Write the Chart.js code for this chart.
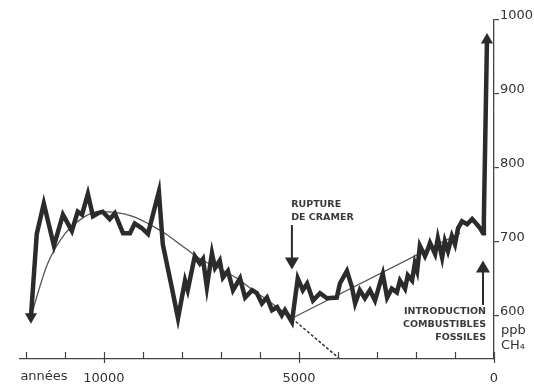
<!DOCTYPE html>
<html>
<head>
<meta charset="utf-8">
<script src="https://cdn.jsdelivr.net/npm/chart.js@4.4.1/dist/chart.umd.min.js"></script>
<style>
  body { margin: 0; background: #fff; }
  #wrap { width: 534px; height: 389px; }
</style>
</head>
<body>
<div id="wrap"><canvas id="myChart"></canvas></div>
<script>
// CH4 concentration (ppb), years before present
let years = [11870, 11720, 11540, 11280, 11050, 10820, 10670, 10560, 10410, 10280, 10150, 10030,
  9850, 9720, 9510, 9330, 9210, 9030, 8870, 8590, 8490, 8260, 8100, 7920, 7850, 7670, 7540, 7460,
  7360, 7230, 7150, 7030, 6950, 6820, 6690, 6510, 6380, 6200, 6080, 5950, 5820, 5690, 5560, 5440,
  5360, 5180, 5030, 4900, 4790, 4640, 4460, 4280, 4030, 3950, 3770, 3640, 3560, 3440, 3310, 3180,
  3050, 2920, 2850, 2740, 2620, 2490, 2410, 2280, 2210, 2100, 2030, 1970, 1900, 1770, 1690, 1640,
  1510, 1440, 1330, 1260, 1180, 1080, 1000, 920, 820, 690, 560, 440, 360, 280, 260, 180];
let methane = [599, 711, 752, 695, 737, 715, 741, 737, 765, 735, 739, 741,
  731, 739, 712, 712, 725, 719, 711, 768, 697, 639, 597, 648, 635, 681, 671, 677,
  639, 685, 665, 675, 652, 661, 635, 651, 625, 635, 631, 617, 625, 608, 612, 601,
  608, 592, 651, 635, 644, 621, 631, 624, 625, 644, 661, 639, 617, 635, 624, 635,
  621, 645, 657, 625, 637, 632, 648, 637, 655, 648, 671, 661, 695, 681, 691, 699,
  684, 705, 679, 701, 688, 708, 697, 719, 728, 724, 731, 724, 719, 712, 731, 973];

// smoothed natural trend
let trendYears = [11870, 11770, 11440, 11000, 10560, 10150, 9720, 9280, 8870, 8440, 7920, 7460,
  7030, 6590, 6180, 5740, 5180];
let trendValues = [597, 617, 671, 711, 732, 741, 740, 735, 725, 712, 692, 675,
  664, 651, 635, 619, 597];

// anthropogenic rise after the break, and the expected natural decline
let riseYears = [5180, 870];
let riseValues = [597, 712];
let expectedYears = [5180, 3950];
let expectedValues = [597, 542];

let xTicks = [0, 1000, 2000, 3000, 4000, 5000, 6000, 7000, 8000, 9000, 10000, 11000, 12000];
let xLabels = { 0: '0', 5000: '5000', 10000: '10000' };
let yTicks = [600, 700, 800, 900, 1000];

function toPoints(xs, ys) {
  let pts = [];
  for (let i = 0; i < xs.length; i++) {
    pts.push({ x: xs[i], y: ys[i] });
  }
  return pts;
}

const ink = '#2b2b2b';

// extra drawing: tick marks pointing up, unit labels, annotations
const extras = {
  id: 'extras',
  afterDraw(chart) {
    const ctx = chart.ctx;
    const xs = chart.scales.x;
    const ys = chart.scales.y;
    const base = chart.chartArea.bottom;
    ctx.save();
    ctx.strokeStyle = '#444';
    ctx.lineWidth = 1.2;
    xTicks.forEach(v => {
      let px = Math.round(xs.getPixelForValue(v)) + 0.5;
      let major = (v % 5000 === 0);
      ctx.beginPath();
      ctx.moveTo(px, base - 7);
      ctx.lineTo(px, base + (major ? 4 : 0));
      ctx.stroke();
    });

    ctx.fillStyle = '#333';
    ctx.font = '13px "DejaVu Sans"';
    ctx.textAlign = 'center';
    ctx.textBaseline = 'middle';
    ctx.fillText('années', 44, 377);
    ctx.textAlign = 'left';
    ctx.fillText('ppb', 501, 331);
    ctx.fillText('CH\u2084', 501, 346);

    // annotations
    ctx.fillStyle = '#3a3a3a';
    ctx.font = 'bold 9.5px "DejaVu Sans"';
    ctx.textAlign = 'left';
    let cx = xs.getPixelForValue(5200);
    ctx.fillText('RUPTURE', cx, 205);
    ctx.fillText('DE CRAMER', cx, 218);
    ctx.textAlign = 'right';
    let fx = xs.getPixelForValue(205);
    ctx.fillText('INTRODUCTION', fx, 312);
    ctx.fillText('COMBUSTIBLES', fx, 325);
    ctx.fillText('FOSSILES', fx, 338);

    function arrow(xv, fromV, toV) {
      let x = xs.getPixelForValue(xv);
      let y0 = ys.getPixelForValue(fromV);
      let y1 = ys.getPixelForValue(toV);
      let dir = y1 > y0 ? 1 : -1;
      ctx.strokeStyle = ink;
      ctx.fillStyle = ink;
      ctx.lineWidth = 2;
      ctx.beginPath();
      ctx.moveTo(x, y0);
      ctx.lineTo(x, y1 - dir * 10);
      ctx.stroke();
      ctx.beginPath();
      ctx.moveTo(x, y1);
      ctx.lineTo(x - 7, y1 - dir * 12);
      ctx.lineTo(x + 7, y1 - dir * 12);
      ctx.closePath();
      ctx.fill();
    }
    arrow(5180, 723, 663);
    arrow(282, 615, 675);
    ctx.restore();
  }
};

const ctx = document.getElementById('myChart').getContext('2d');
const myChart = new Chart(ctx, {
  type: 'line',
  data: {
    datasets: [
      {
        data: toPoints(years, methane),
        borderColor: ink,
        backgroundColor: ink,
        borderWidth: 4.5,
        borderJoinStyle: 'miter',
        tension: 0,
        pointStyle: 'triangle',
        pointRadius: ctx2 => (ctx2.dataIndex === 0 || ctx2.dataIndex === years.length - 1) ? 7 : 0,
        pointRotation: ctx2 => ctx2.dataIndex === 0 ? 180 : 0,
        pointBorderWidth: 0,
        order: 0
      },
      {
        data: toPoints(trendYears, trendValues),
        borderColor: '#555',
        borderWidth: 1.3,
        pointRadius: 0,
        cubicInterpolationMode: 'monotone',
        order: 1
      },
      {
        data: toPoints(riseYears, riseValues),
        borderColor: '#555',
        borderWidth: 1.3,
        pointRadius: 0,
        order: 1
      },
      {
        data: toPoints(expectedYears, expectedValues),
        borderColor: '#333',
        borderWidth: 1.5,
        borderDash: [3, 2],
        pointRadius: 0,
        order: 1
      }
    ]
  },
  options: {
    responsive: true,
    maintainAspectRatio: false,
    animation: false,
    layout: { padding: { left: 20, top: 20, right: 0, bottom: 0 } },
    plugins: { legend: { display: false }, tooltip: { enabled: false } },
    scales: {
      x: {
        type: 'linear',
        reverse: true,
        min: 0,
        max: 12150,
        afterBuildTicks: scale => { scale.ticks = xTicks.map(v => ({ value: v })); },
        afterFit: scale => { scale.height = 30; },
        grid: { display: false },
        border: { display: true, color: '#444', width: 1.3 },
        ticks: {
          autoSkip: false,
          maxRotation: 0,
          padding: 4,
          color: '#333',
          font: { family: 'DejaVu Sans', size: 13 },
          callback: value => xLabels[value] || ''
        }
      },
      y: {
        position: 'right',
        min: 542,
        max: 1000,
        afterBuildTicks: scale => { scale.ticks = yTicks.map(v => ({ value: v })); },
        afterFit: scale => { scale.width = 40; },
        grid: { drawOnChartArea: false, drawTicks: true, tickLength: 5, color: '#444', lineWidth: 1.2 },
        border: { display: true, color: '#444', width: 1.3 },
        ticks: {
          padding: 1,
          labelOffset: -4,
          color: '#333',
          font: { family: 'DejaVu Sans', size: 13 },
          callback: value => String(value)
        }
      }
    }
  },
  plugins: [extras]
});
</script>
</body>
</html>
